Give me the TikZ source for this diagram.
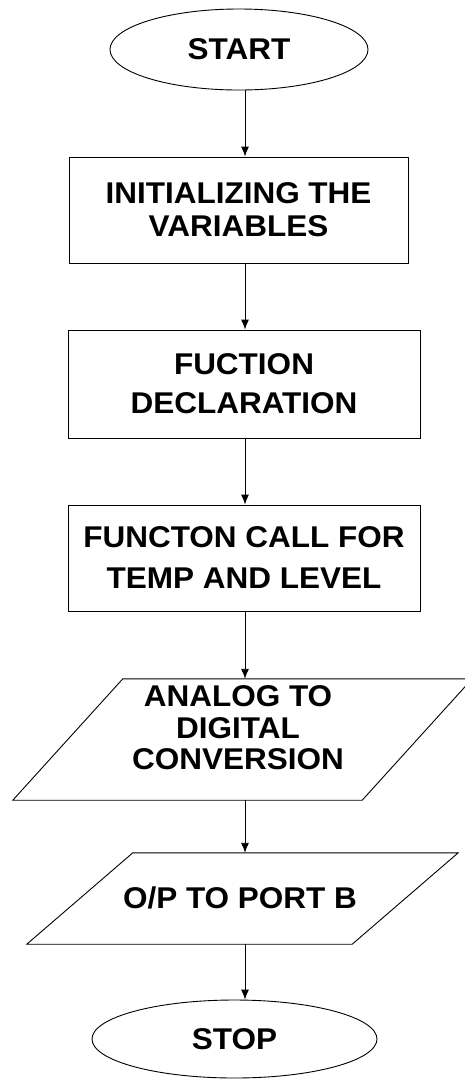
\documentclass[tikz,border=0pt]{standalone}
\usepackage{fontspec}
\setmainfont{Liberation Sans}[FakeStretch=1.05]
\usetikzlibrary{shapes.geometric,arrows.meta}
\begin{document}
\begin{tikzpicture}[x=1pt,y=-1pt,
  every node/.style={font=\bfseries\fontsize{30}{33}\selectfont, align=center, inner sep=0pt},
  term/.style={draw, ellipse, line width=0.9pt},
  proc/.style={draw, rectangle, line width=0.9pt},
  io/.style={rectangle},
  ioshape/.style={draw, line width=0.9pt, line join=miter},
  arr/.style={-{Latex[length=10pt,width=8pt]}, line width=0.9pt}]
\path[use as bounding box, fill=white] (0,0) rectangle (464,1080);
\coordinate (ax) at (245,0);

\node[term, minimum width=258pt, minimum height=81pt] (start) at (239,49.5) {START};
\node[proc, minimum width=339pt, minimum height=106pt] (b1) at (238.5,210) {INITIALIZING THE\\VARIABLES};
\node[proc, minimum width=352pt, minimum height=108pt, font=\bfseries\fontsize{30}{39}\selectfont] (b2) at (244,384) {FUCTION\\DECLARATION};
\node[proc, minimum width=352pt, minimum height=106pt, font=\bfseries\fontsize{30}{41}\selectfont] (b3) at (244,558) {FUNCTON CALL FOR\\TEMP AND LEVEL};

\node[io, minimum width=459pt, minimum height=121pt] (p1) at (242.5,739.5) {};
\draw[ioshape] ([xshift=110pt]p1.north west) -- (p1.north east) -- ([xshift=-110pt]p1.south east) -- (p1.south west) -- cycle;
\node[font=\bfseries\fontsize{30}{31.5}\selectfont] (p1t) at (238,728) {ANALOG TO\\DIGITAL\\CONVERSION};

\node[io, minimum width=431pt, minimum height=91pt] (p2) at (242.5,898.5) {};
\draw[ioshape] ([xshift=106pt]p2.north west) -- (p2.north east) -- ([xshift=-106pt]p2.south east) -- (p2.south west) -- cycle;
\node (p2t) at (240,898) {O/P TO PORT B};

\node[term, minimum width=285pt, minimum height=78pt] (stop) at (234.5,1039) {STOP};

\draw[arr] (start.south -| ax) -- (b1.north -| ax);
\draw[arr] (b1.south -| ax) -- (b2.north -| ax);
\draw[arr] (b2.south -| ax) -- (b3.north -| ax);
\draw[arr] (b3.south -| ax) -- (p1.north -| ax);
\draw[arr] (p1.south -| ax) -- (p2.north -| ax);
\draw[arr] (p2.south -| ax) -- (stop.north -| ax);
\end{tikzpicture}
\end{document}
